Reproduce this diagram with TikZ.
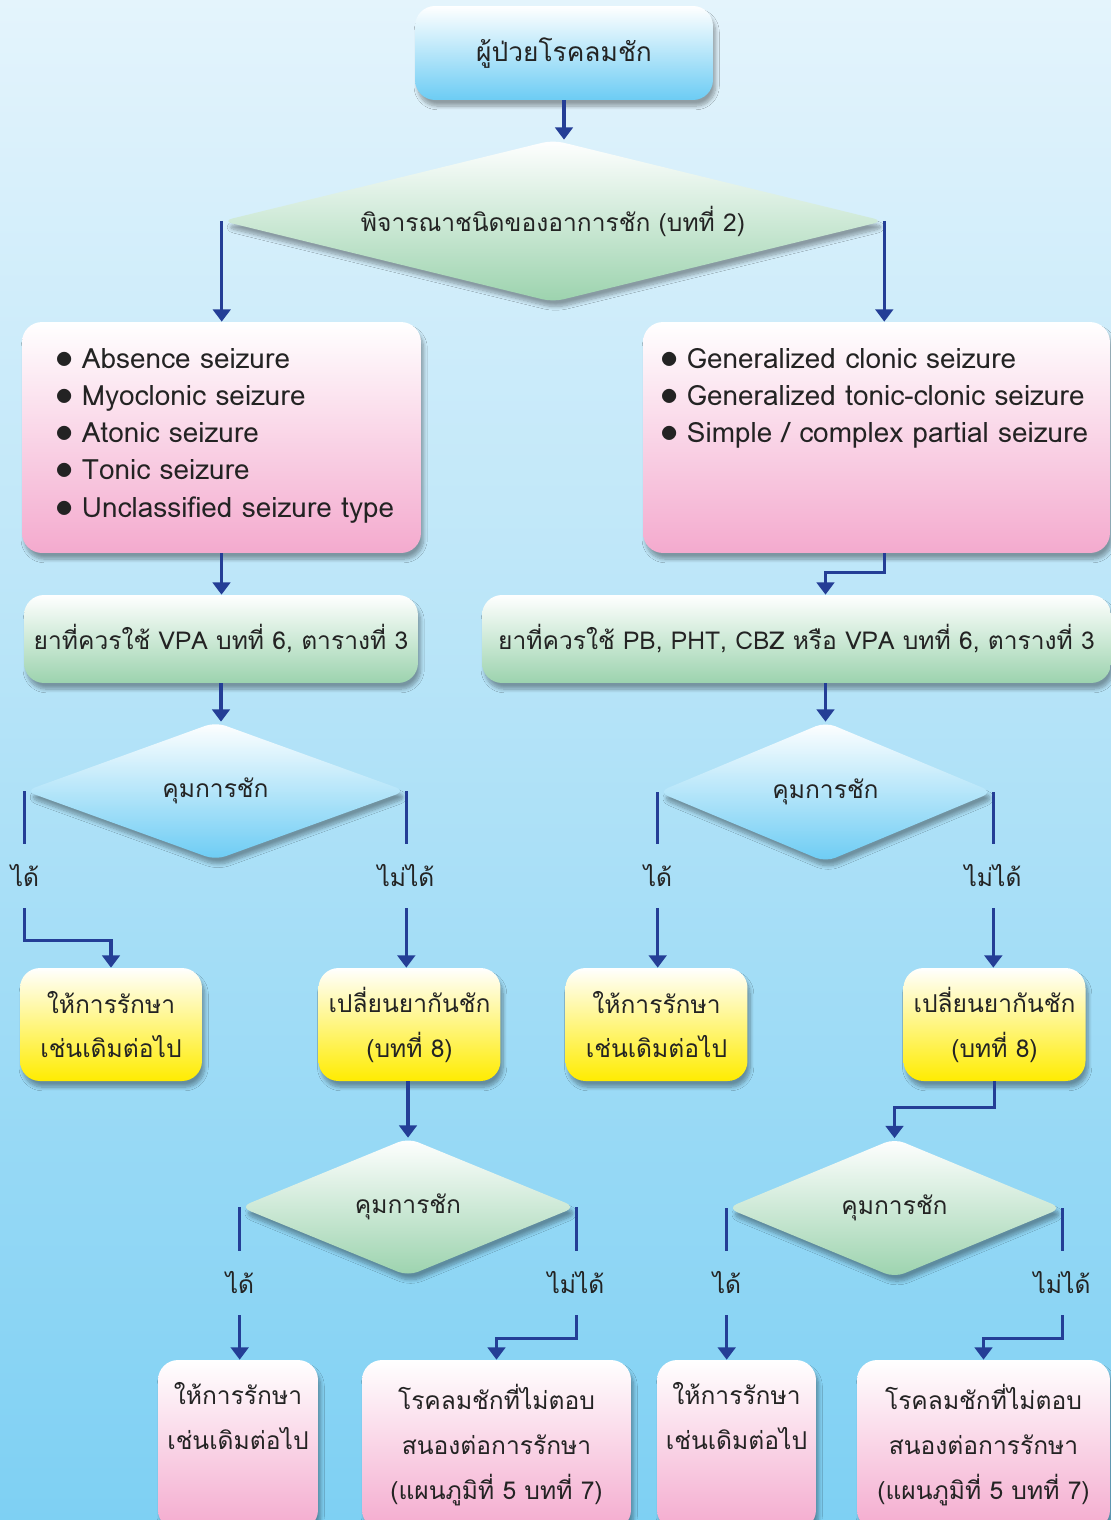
\documentclass[tikz,border=0pt]{standalone}
\usepackage{fontspec}
\setmainfont[Script=Thai]{Loma}
\usepackage{tikz}
\usetikzlibrary{positioning,shapes.geometric,arrows.meta,shadows.blur}

\definecolor{bgtop}{RGB}{228,244,252}
\definecolor{bgbot}{RGB}{126,208,243}
\definecolor{arrowblue}{RGB}{36,62,150}
\definecolor{pinkbot}{RGB}{244,170,206}
\definecolor{greenbot}{RGB}{156,211,174}
\definecolor{bluebot}{RGB}{108,204,244}
\definecolor{yellowbot}{RGB}{255,236,0}
\definecolor{txt}{RGB}{35,35,35}

\newcommand{\itm}{{\fontsize{20}{20}\selectfont$\bullet$}\hspace{0.3em}}

\begin{document}
\begin{tikzpicture}[x=0.02cm, y=-0.02cm,
    every node/.style={text=txt, font=\fontsize{14}{25.6}\selectfont},
    soft/.style={blur shadow={shadow blur steps=8, shadow xshift=1.5pt, shadow yshift=-3.5pt, shadow opacity=35}},
    box/.style={soft, rounded corners=0.4cm, inner sep=0pt, align=center},
    pinkbox/.style={box, top color=white, bottom color=pinkbot},
    greenbox/.style={box, top color=white, bottom color=greenbot},
    bluebox/.style={box, top color=white, bottom color=bluebot},
    yellowbox/.style={box, top color=white, bottom color=yellowbot},
    dia/.style={soft, diamond, rounded corners=6pt, inner sep=0pt},
    greendia/.style={dia, top color=white, bottom color=greenbot},
    bluedia/.style={dia, top color=white, bottom color=bluebot},
    listtxt/.style={anchor=west, align=left, inner sep=0pt, font=\fontsize{15.9}{21.2}\selectfont},
    lbl/.style={minimum height=1.28cm, inner sep=0pt},
    lin/.style={draw=arrowblue, line width=1.8pt},
    arr/.style={lin, -{Triangle[width=10pt,length=7pt]}},
]
    \shade[top color=bgtop, bottom color=bgbot] (0,0) rectangle (1111,1520);
    \useasboundingbox (0,0) rectangle (1111,1520);

    \node[bluebox, minimum width=5.96cm, minimum height=1.88cm, font=\fontsize{15}{25.6}\selectfont] (start) at (564,53) {ผู้ป่วยโรคลมชัก};
    \node[greendia, minimum width=13.24cm, minimum height=3.24cm, aspect=4.1] (type) at (553,221) {พิจารณาชนิดของอาการชัก (บทที่ 2)};

    \node[pinkbox, minimum width=7.98cm, minimum height=4.62cm] (grpA) at (221.5,437.5) {};
    \node[pinkbox, minimum width=9.34cm, minimum height=4.62cm] (grpB) at (876.5,437.5) {};
    \node[listtxt] (listA) at (55,435.5) {\itm Absence seizure\\\itm Myoclonic seizure\\\itm Atonic seizure\\\itm Tonic seizure\\\itm Unclassified seizure type};
    \node[listtxt] (listB) at (660,398.5) {\itm Generalized clonic seizure\\\itm Generalized tonic-clonic seizure\\\itm Simple / complex partial seizure};

    \node[greenbox, minimum width=7.88cm, minimum height=1.76cm] (drugA) at (221,639) {ยาที่ควรใช้ VPA บทที่ 6, ตารางที่ 3};
    \node[greenbox, minimum width=12.58cm, minimum height=1.76cm] (drugB) at (796.5,639) {ยาที่ควรใช้ PB, PHT, CBZ หรือ VPA บทที่ 6, ตารางที่ 3};

    \node[bluedia, minimum width=7.62cm, minimum height=2.76cm, aspect=2.76] (ctrlA) at (215.5,791) {คุมการชัก};
    \node[bluedia, minimum width=6.7cm, minimum height=2.8cm, aspect=2.4] (ctrlB) at (825.5,792) {คุมการชัก};

    \node[lbl] (yesA) at (25,876) {ได้};
    \node[lbl] (noA) at (406,876) {ไม่ได้};
    \node[lbl] (yesB) at (658,876) {ได้};
    \node[lbl] (noB) at (993,876) {ไม่ได้};

    \node[yellowbox, minimum width=3.64cm, minimum height=2.26cm] (keepA) at (111,1024.5) {ให้การรักษา\\เช่นเดิมต่อไป};
    \node[yellowbox, minimum width=3.64cm, minimum height=2.26cm] (swapA) at (409.5,1024.5) {เปลี่ยนยากันชัก\\(บทที่ 8)};
    \node[yellowbox, minimum width=3.64cm, minimum height=2.26cm] (keepB) at (656.5,1024.5) {ให้การรักษา\\เช่นเดิมต่อไป};
    \node[yellowbox, minimum width=3.64cm, minimum height=2.26cm] (swapB) at (994.5,1024.5) {เปลี่ยนยากันชัก\\(บทที่ 8)};

    \node[greendia, minimum width=6.72cm, minimum height=2.76cm, aspect=2.43] (ctrlC) at (408,1207) {คุมการชัก};
    \node[greendia, minimum width=6.7cm, minimum height=2.78cm, aspect=2.41] (ctrlD) at (894.5,1208) {คุมการชัก};

    \node[lbl] (yesC) at (240,1283) {ได้};
    \node[lbl] (noC) at (576,1283) {ไม่ได้};
    \node[lbl] (yesD) at (727,1283) {ได้};
    \node[lbl] (noD) at (1062,1283) {ไม่ได้};

    \node[pinkbox, minimum width=3.2cm, minimum height=3.4cm] (keepC) at (238,1445) {ให้การรักษา\\เช่นเดิมต่อไป\\\strut};
    \node[pinkbox, minimum width=5.38cm, minimum height=3.4cm] (refrC) at (496.5,1445) {โรคลมชักที่ไม่ตอบ\\สนองต่อการรักษา\\(แผนภูมิที่ 5 บทที่ 7)};
    \node[pinkbox, minimum width=3.18cm, minimum height=3.4cm] (keepD) at (736.5,1445) {ให้การรักษา\\เช่นเดิมต่อไป\\\strut};
    \node[pinkbox, minimum width=5.06cm, minimum height=3.4cm] (refrD) at (983.5,1445) {โรคลมชักที่ไม่ตอบ\\สนองต่อการรักษา\\(แผนภูมิที่ 5 บทที่ 7)};

    \draw[arr] (start.south) -- (start.south |- type.north);
    \draw[arr] (type.west) -- (type.west |- grpA.north);
    \draw[arr] (type.east) -- (type.east |- grpB.north);
    \draw[arr] (grpA.south) -- (grpA.south |- drugA.north);
    \draw[arr] (type.east |- grpB.south) -- ++(0,19) -| (ctrlB.north |- drugB.north);
    \draw[arr] (drugA.south) -- (drugA.south |- ctrlA.north);
    \draw[arr] (ctrlB.north |- drugB.south) -- (ctrlB.north);

    \draw[lin] (ctrlA.west) -- (ctrlA.west |- yesA.north);
    \draw[arr] (ctrlA.west |- yesA.south) -- ++(0,32) -| (keepA.north);
    \draw[lin] (ctrlA.east) -- (ctrlA.east |- noA.north);
    \draw[arr] (ctrlA.east |- noA.south) -- (ctrlA.east |- swapA.north);
    \draw[lin] (ctrlB.west) -- (ctrlB.west |- yesB.north);
    \draw[arr] (ctrlB.west |- yesB.south) -- (ctrlB.west |- keepB.north);
    \draw[lin] (ctrlB.east) -- (ctrlB.east |- noB.north);
    \draw[arr] (ctrlB.east |- noB.south) -- (ctrlB.east |- swapB.north);

    \draw[arr] (ctrlC.north |- swapA.south) -- (ctrlC.north);
    \draw[arr] (swapB.south) -- ++(0,26) -| (ctrlD.north);

    \draw[lin] (ctrlC.west) -- (ctrlC.west |- yesC.north);
    \draw[arr] (ctrlC.west |- yesC.south) -- (ctrlC.west |- keepC.north);
    \draw[lin] (ctrlC.east) -- (ctrlC.east |- noC.north);
    \draw[arr] (ctrlC.east |- noC.south) -- ++(0,23) -| (refrC.north);
    \draw[lin] (ctrlD.west) -- (ctrlD.west |- yesD.north);
    \draw[arr] (ctrlD.west |- yesD.south) -- (ctrlD.west |- keepD.north);
    \draw[lin] (ctrlD.east) -- (ctrlD.east |- noD.north);
    \draw[arr] (ctrlD.east |- noD.south) -- ++(0,23) -| (refrD.north);
\end{tikzpicture}
\end{document}
